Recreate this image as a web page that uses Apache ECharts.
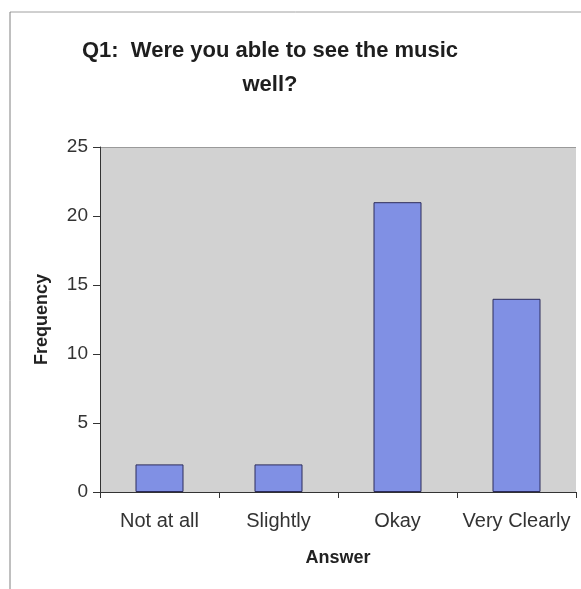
<!DOCTYPE html>
<html>
<head>
<meta charset="utf-8">
<script src="https://cdn.jsdelivr.net/npm/echarts@6/dist/echarts.min.js"></script>
<style>html,body{margin:0;padding:0;background:#fff;}#c{width:581px;height:589px;}</style>
</head>
<body>
<div id="c"></div>
<script>
var categories = ['Not at all', 'Slightly', 'Okay', 'Very Clearly'];
var frequency = [2, 2, 21, 14];
var yTicks = [0, 5, 10, 15, 20, 25];
var titleText = 'Q1:  Were you able to see the music\nwell?';

var chart = echarts.init(document.getElementById('c'), null, {renderer: 'canvas'});
var font = 'Liberation Sans, Arial, sans-serif';
chart.setOption({
  animation: false,
  backgroundColor: '#ffffff',
  grid: {left: 100, right: 5, top: 147, bottom: 97, show: true, backgroundColor: '#d2d2d2', borderWidth: 0},
  graphic: [
    {type: 'line', shape: {x1: 10, y1: 12, x2: 581, y2: 12}, style: {stroke: '#a0a0a0', lineWidth: 1}},
    {type: 'line', shape: {x1: 10, y1: 12, x2: 10, y2: 589}, style: {stroke: '#808080', lineWidth: 1}},
    {type: 'line', shape: {x1: 100, y1: 147.5, x2: 576, y2: 147.5}, style: {stroke: '#9a9a9a', lineWidth: 1}},
    {type: 'text', x: 270, y: 34, style: {text: titleText, textAlign: 'center', textVerticalAlign: 'top', font: 'bold 22px ' + font, lineHeight: 34, fill: '#1e1e1e'}}
  ],
  xAxis: {
    type: 'category', data: categories,
    name: 'Answer', nameLocation: 'middle', nameGap: 57,
    nameTextStyle: {fontFamily: font, fontWeight: 'bold', fontSize: 18, color: '#222', verticalAlign: 'top'},
    axisLine: {lineStyle: {color: '#333', width: 1}},
    axisTick: {show: true, length: 6, lineStyle: {color: '#333'}},
    axisLabel: {fontFamily: font, fontSize: 20, color: '#333', margin: 19, interval: 0},
    splitLine: {show: false}
  },
  yAxis: {
    type: 'value', min: 0, max: 25, interval: 5,
    name: 'Frequency', nameLocation: 'middle', nameGap: 49,
    nameTextStyle: {fontFamily: font, fontWeight: 'bold', fontSize: 18, color: '#222'},
    axisLine: {show: true, lineStyle: {color: '#333', width: 1}},
    axisTick: {show: true, length: 7, lineStyle: {color: '#333'}},
    axisLabel: {fontFamily: font, fontSize: 19, color: '#333', margin: 12,
      formatter: function (v) { return yTicks.indexOf(v) >= 0 ? String(v) : ''; }},
    splitLine: {show: false}
  },
  series: [{
    type: 'bar', data: frequency, barWidth: 48,
    itemStyle: {color: '#8090e4', borderColor: '#2c2c5c', borderWidth: 1}
  }]
});
</script>
</body>
</html>
